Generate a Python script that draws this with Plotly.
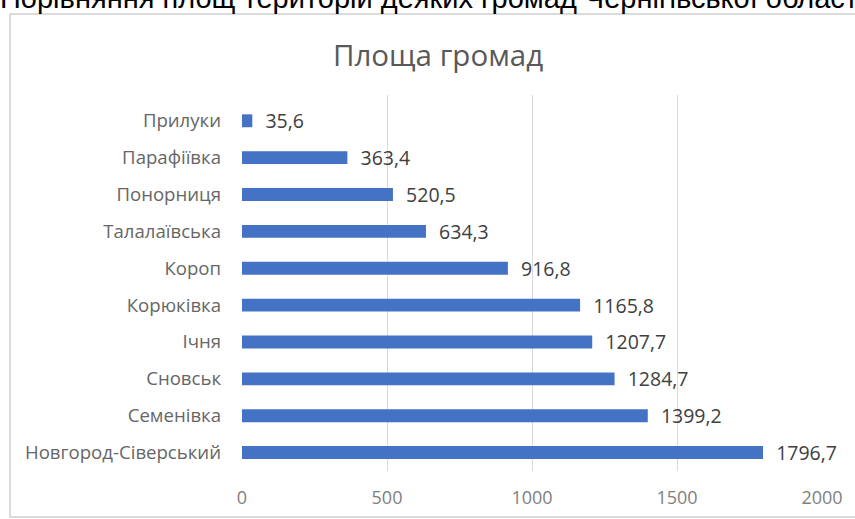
import plotly.graph_objects as go

categories = ["Новгород-Сіверський", "Семенівка", "Сновськ", "Ічня", "Корюківка",
              "Короп", "Талалаївська", "Понорниця", "Парафіївка", "Прилуки"]
values = [1796.7, 1399.2, 1284.7, 1207.7, 1165.8, 916.8, 634.3, 520.5, 363.4, 35.6]
labels = ["1796,7", "1399,2", "1284,7", "1207,7", "1165,8", "916,8", "634,3", "520,5", "363,4", "35,6"]
x_ticks = [0, 500, 1000, 1500, 2000]

chart_title = "Площа громад"
doc_text = "Порівняння площ територій деяких громад Чернігівської області"

W, H = 855, 519
L, R, T, B = 242, 33, 95, 48

def px_x(p):
    return (p - L) / (W - L - R)

def px_y(p):
    return (H - B - p) / (H - T - B)

fig = go.Figure(go.Bar(
    y=categories, x=values, orientation="h",
    marker=dict(color="#4472C4", line=dict(width=0)),
    text=["  " + s for s in labels], textposition="outside",
    constraintext="none",
    textfont=dict(family="Open Sans", size=19.5, color="#404040"),
    cliponaxis=False,
))

fig.update_layout(
    width=W, height=H,
    margin=dict(l=L, r=R, t=T, b=B),
    paper_bgcolor="white", plot_bgcolor="white",
    bargap=0.65,
    showlegend=False,
    font=dict(family="Open Sans", color="#595959"),
    xaxis=dict(range=[0, 2000], tickvals=x_ticks, ticktext=[str(v) for v in x_ticks],
               showgrid=True, gridcolor="#D9D9D9", gridwidth=1, zeroline=False,
               showline=False, ticks="", ticklabelstandoff=14, automargin=False,
               tickfont=dict(family="Open Sans", size=18, color="#7F7F7F"), fixedrange=True),
    yaxis=dict(range=[-0.5, 9.7], showgrid=False, zeroline=False, showline=False,
               ticks="", ticklabelstandoff=20, automargin=False,
               tickfont=dict(family="Open Sans", size=18.6, color="#666666"), fixedrange=True),
    shapes=[dict(type="rect", xref="paper", yref="paper",
                 x0=px_x(10), x1=px_x(920), y0=px_y(517), y1=px_y(14),
                 line=dict(color="#D0D0D0", width=1.5), fillcolor="rgba(0,0,0,0)", layer="below")],
    annotations=[
        dict(text=chart_title, xref="paper", yref="paper", x=px_x(438), y=px_y(55),
             xanchor="center", yanchor="middle", showarrow=False,
             font=dict(family="Open Sans", size=29.5, color="#595959")),
        dict(text=doc_text, xref="paper", yref="paper", x=px_x(-2), y=px_y(-2),
             xanchor="left", yanchor="middle", showarrow=False,
             font=dict(family="Liberation Sans", size=29, color="#000000")),
    ],
)

fig.write_html("out.html", config={"displayModeBar": False},
               post_script="document.body.style.margin='0';document.body.style.overflow='hidden';")
